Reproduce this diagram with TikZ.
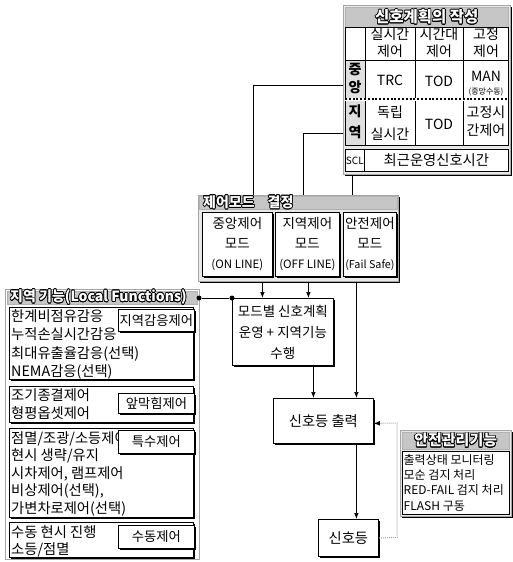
\documentclass[tikz,border=0pt]{standalone}
\usepackage{fontspec}
\setmainfont{Noto Sans CJK KR}
\usepackage[copies]{contour}
\contourlength{0.7pt}
\usetikzlibrary{shadows,arrows.meta}
\begin{document}
\begin{tikzpicture}[x=1pt,y=-1pt,
  shd/.style={drop shadow={shadow xshift=1.5pt,shadow yshift=-1.5pt,fill=black,opacity=1}},
  wh/.style 2 args={minimum width=#1pt,minimum height=#2pt},
  bx/.style={draw=black,line width=0.8pt,fill=white,shd,anchor=north west,inner sep=0pt},
  frame/.style={draw=gray!70,line width=1pt,fill=gray!18,anchor=north west,inner sep=0pt},
  band/.style={fill=gray!45,draw=gray!60,anchor=north west,inner sep=0pt},
  ttl/.style={font=\bfseries\fontsize{14}{14}\selectfont,text=white,inner sep=0pt},
  lst/.style={anchor=north west,align=left,inner sep=0pt,font=\fontsize{14.3}{18.5}\selectfont},
  lbl/.style={bx,font=\fontsize{13.3}{14}\selectfont},
  cell/.style={align=center,inner sep=0pt,font=\fontsize{14}{17}\selectfont},
  arr/.style={-{Latex[length=6pt,width=4.5pt]},line width=0.7pt},
  con/.style={line width=0.7pt},
  fb/.style={densely dotted,draw=gray!70,line width=1pt,-{Latex[length=6pt,width=5pt,color=black]}},
  dotn/.style={circle,fill=black,inner sep=0pt,minimum size=5pt}]
\useasboundingbox (0,0) rectangle (512,562);

% ---------- signal plan table ----------
\node[frame,shd,wh={167}{169}] (tbl) at (343,5) {};
\node[band,wh={163}{20}] (tband) at (345,7) {};
\node[ttl,font=\bfseries\fontsize{15.5}{16}\selectfont] (ttitle) at (tband.center) {\contour{black}{신호계획의 작성}};
\fill[white] (345,27) rectangle (508,145);
\fill[gray!25] (345,60) rectangle (365,145);
\draw[line width=0.9pt] (345,27) rectangle (508,145);
\draw[con] (365,27) -- (365,145) (415,27) -- (415,145) (463,27) -- (463,145);
\draw[con] (345,60) -- (508,60);
\draw[white,line width=3pt] (345,99) -- (508,99);
\draw[line width=2.2pt,dash pattern=on 2pt off 1.8pt] (345,99) -- (508,99);
\node[cell] (h1) at (390,43) {실시간\\제어};
\node[cell] (h2) at (439,43) {시간대\\제어};
\node[cell] (h3) at (486,43) {고정\\제어};
\node[cell,font=\bfseries\fontsize{14}{18}\selectfont] (rC) at (355,79) {중\\앙};
\node[cell] (c1) at (390,80) {TRC};
\node[cell] (c2) at (439,81) {TOD};
\node[cell] (c3) at (486,76) {MAN};
\node[cell,font=\fontsize{8}{9}\selectfont] (c3b) at (486,92) {(중앙수동)};
\node[cell,font=\bfseries\fontsize{14}{21}\selectfont] (rL) at (355,122) {지\\역};
\node[cell,font=\fontsize{14}{22}\selectfont] (l1) at (390,123) {독립\\실시간};
\node[cell] (l2) at (439,124) {TOD};
\node[cell,font=\fontsize{14}{18}\selectfont] (l3) at (486,121) {고정시\\간제어};
\node[draw,con,fill=white,anchor=north west,inner sep=0pt,wh={19}{22},font=\fontsize{10}{10}\selectfont] (scl) at (345,149) {SCL};
\node[draw,con,fill=white,anchor=north west,inner sep=0pt,wh={144}{22},font=\fontsize{14.3}{15}\selectfont] (sclt) at (364,149) {최근운영신호시간};

% ---------- control mode decision ----------
\node[frame,fill=gray!18,shd,wh={200}{86}] (mode) at (198,195) {};
\node[band,wh={198}{13}] (mband) at (199,196) {};
\node[ttl,anchor=west] (mtitle) at (203,202.5) {\contour{black}{제어모드}\hspace{13pt}\contour{black}{결정}};
\node[bx,wh={70}{64},align=center,font=\fontsize{13.5}{20}\selectfont] (m1) at (202,212)
  {중앙제어\\모드\\{\fontsize{11.5}{12}\selectfont(ON LINE)}};
\node[bx,wh={64}{64},align=center,font=\fontsize{13.5}{20}\selectfont] (m2) at (275,212)
  {지역제어\\모드\\{\fontsize{11.5}{12}\selectfont(OFF LINE)}};
\node[bx,wh={53}{64},align=center,font=\fontsize{13.5}{20}\selectfont] (m3) at (343,212)
  {안전제어\\모드\\{\fontsize{10.8}{12}\selectfont(Fail Safe)}};

% connectors from table
\coordinate (tC) at (343,85);
\coordinate (tL) at (343,133);
\coordinate (d1) at (253,195);
\coordinate (d2) at (303,195);
\coordinate (d3) at (352,195);
\draw[con] (tC) -| (d1);
\draw[con] (tL) -| (d2);
\draw[con] (tbl.south -| d3) -- (d3);

% ---------- mode plan / output / signal ----------
\node[bx,wh={101}{67},align=center,font=\fontsize{13.5}{21}\selectfont] (mb) at (232,298)
  {모드별 신호계획\\운영 + 지역기능\\수행};
\node[bx,wh={100}{45},font=\fontsize{14.3}{15}\selectfont] (out) at (273,398) {신호등 출력};
\node[bx,wh={60}{37},font=\fontsize{14.3}{15}\selectfont] (sig) at (318,519) {신호등};

\draw[arr] ([xshift=25pt]m1.south |- mode.south) -- ([xshift=25pt]m1.south |- mb.north);
\draw[arr] ([xshift=1pt]m2.south |- mode.south) -- ([xshift=1pt]m2.south |- mb.north);
\draw[arr] ([xshift=-13.5pt]m3.south |- mode.south) -- ([xshift=-13.5pt]m3.south |- out.north);
\draw[arr] ([xshift=30.5pt]mb.south) -- ([xshift=30.5pt]mb.south |- out.north);
\draw[arr] ([xshift=33pt]out.south) -- ([xshift=33pt]out.south |- sig.north);

% ---------- safety management ----------
\node[frame,shd,wh={111}{86}] (safe) at (400,430) {};
\node[band,wh={107}{17}] (sband) at (402,432) {};
\node[ttl,font=\bfseries\fontsize{15}{15}\selectfont] (stitle) at (sband.center) {\contour{black}{안전관리기능}};
\node[draw=black,line width=0.8pt,fill=white,anchor=north west,inner sep=0pt,wh={107}{63}] (slist) at (402,451) {};
\node[lst,font=\fontsize{12}{15.3}\selectfont] (stext) at (403.5,454)
  {출력상태 모니터링\\모순 검지 처리\\RED-FAIL 검지 처리\\FLASH 구동};

\coordinate (k1) at (397,537.5);
\coordinate (k2) at (397,423);
\draw[fb] (sig.east) -- (k1) -- (k2) -- ([yshift=-2.5pt]out.east);

% ---------- local functions ----------
\node[draw=gray!70,line width=1.2pt,fill=white,anchor=north west,inner sep=0pt,wh={194}{270}] (loc) at (5,289) {};
\node[band,wh={190}{13}] (lband) at (7,291) {};
\node[ttl,anchor=west] (ltitle) at (10,297.5) {\contour{black}{지역 기능(Local Functions)}};

\node[bx,wh={184}{72}] (g1) at (9,307) {};
\node[lst] (g1t) at (11,309) {한계비점유감응\\누적손실시간감응\\최대유출율감응(선택)\\NEMA감응(선택)};
\node[lbl,wh={76}{22}] (lb1) at (118,309) {지역감응제어};

\node[bx,wh={184}{36}] (g2) at (9,386) {};
\node[lst] (g2t) at (11,388) {조기종결제어\\형평옵셋제어};
\node[lbl,wh={76}{20}] (lb2) at (118,393) {앞막힘제어};

\node[bx,wh={184}{89}] (g3) at (9,428) {};
\node[lst,font=\fontsize{14.3}{17.5}\selectfont] (g3t) at (11,431) {점멸/조광/소등제어\\현시 생략/유지\\시차제어, 램프제어\\비상제어(선택),\\가변차로제어(선택)};
\node[lbl,wh={76}{23}] (lb3) at (118,430) {특수제어};

\node[bx,wh={184}{35}] (g4) at (9,522) {};
\node[lst,font=\fontsize{14.3}{17.5}\selectfont] (g4t) at (11,525) {수동 현시 진행\\소등/점멸};
\node[lbl,wh={76}{23}] (lb4) at (118,525) {수동제어};

\node[dotn] (p1) at (199,298) {};
\node[dotn] (p2) at (232,298) {};
\draw[con] (p1) -- (p2);
\end{tikzpicture}
\end{document}
